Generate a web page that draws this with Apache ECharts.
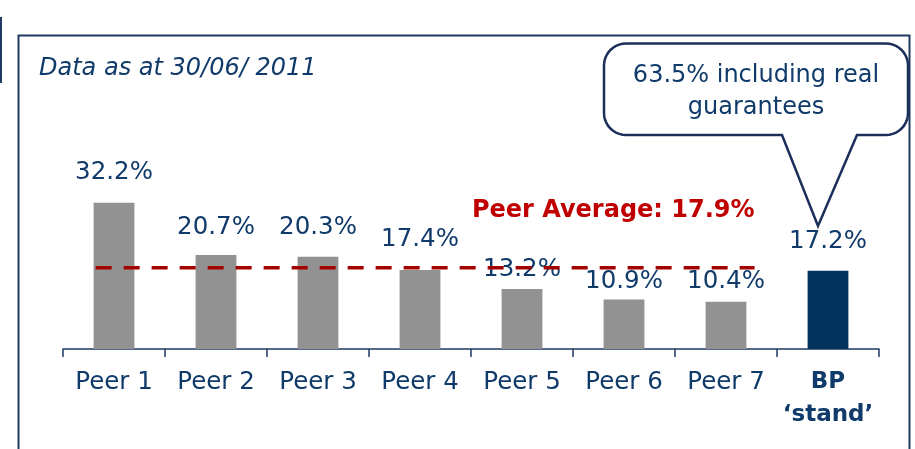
<!DOCTYPE html>
<html>
<head>
<meta charset="utf-8">
<script src="https://cdn.jsdelivr.net/npm/echarts@6/dist/echarts.min.js"></script>
<style>
  html, body { margin: 0; padding: 0; background: #ffffff; }
  #chart { width: 915px; height: 449px; }
</style>
</head>
<body>
<div id="chart"></div>
<script>
// Ratios by peer, with BP on its own at the end
const categories = ['Peer 1', 'Peer 2', 'Peer 3', 'Peer 4', 'Peer 5', 'Peer 6', 'Peer 7', 'BP\n‘stand’'];
const values = [32.2, 20.7, 20.3, 17.4, 13.2, 10.9, 10.4, 17.2];
const peerAverage = 17.9;
const dateNote = 'Data as at 30/06/ 2011';
const calloutLines = ['63.5% including real', 'guarantees'];

const NAVY = '#0f3a6a';
const FRAME = '#1f3864';
const GREY = '#929292';
const BP_BLUE = '#02335f';
const RED_LINE = '#a30000';
const RED_TEXT = '#c00000';
const FONT = 'DejaVu Sans';

// gap between each bar top and its value label
const labelGap = [18, 15, 17, 18, 7, 6, 8, 17];
// extent of the average line, in category-band units
const avgFrom = 0.32, avgTo = 6.78;

// Outline of a rounded speech bubble whose tail hangs from the bottom edge
function bubbleOutline(x0, y0, x1, y1, rx, ry, tailL, tailR, tip) {
  const pts = [];
  const arc = (cx, cy, a0, a1) => {
    const n = 10;
    for (let k = 0; k <= n; k++) {
      const a = a0 + (a1 - a0) * k / n;
      pts.push([cx + rx * Math.cos(a), cy + ry * Math.sin(a)]);
    }
  };
  arc(x1 - rx, y0 + ry, -Math.PI / 2, 0);          // top-right
  arc(x1 - rx, y1 - ry, 0, Math.PI / 2);           // bottom-right
  pts.push([tailR, y1], tip, [tailL, y1]);         // tail
  arc(x0 + rx, y1 - ry, Math.PI / 2, Math.PI);     // bottom-left
  arc(x0 + rx, y0 + ry, Math.PI, Math.PI * 1.5);   // top-left
  return pts;
}

const chart = echarts.init(document.getElementById('chart'), null, { renderer: 'canvas' });

const barData = values.map((v, i) => ({
  value: v,
  itemStyle: { color: i === values.length - 1 ? BP_BLUE : GREY },
  label: { distance: labelGap[i] }
}));

chart.setOption({
  animation: false,
  title: {
    text: dateNote,
    left: 34,
    top: 52,
    textStyle: { fontFamily: FONT, fontSize: 24, fontStyle: 'italic', fontWeight: 'normal', color: NAVY }
  },
  grid: { left: 63, right: 36, top: 167.2, bottom: 100 },
  xAxis: [
    {
      type: 'category',
      data: categories,
      boundaryGap: true,
      axisLine: { lineStyle: { color: FRAME, width: 1.5 } },
      axisTick: { show: true, length: 8, alignWithLabel: false, lineStyle: { color: FRAME, width: 1.5 } },
      axisLabel: {
        interval: 0,
        margin: 17,
        fontFamily: FONT,
        fontSize: 24.5,
        lineHeight: 33,
        color: NAVY,
        formatter: (v) => v.indexOf('BP') === 0 ? '{b|' + v.split('\n').join('}\n{b|') + '}' : v,
        rich: { b: { fontFamily: FONT, fontSize: 23, fontWeight: 'bold', color: NAVY, lineHeight: 33 } }
      }
    },
    { type: 'value', min: 0, max: categories.length, show: false }
  ],
  yAxis: { type: 'value', min: 0, max: 40, show: false },
  series: [
    {
      type: 'bar',
      data: barData,
      barWidth: '40%',
      label: {
        show: true,
        position: 'top',
        fontFamily: FONT,
        fontSize: 24.5,
        lineHeight: 24,
        color: NAVY,
        formatter: (p) => p.value.toFixed(1) + '%'
      }
    },
    {
      type: 'line',
      xAxisIndex: 1,
      data: [[avgFrom, peerAverage], [avgTo, peerAverage]],
      symbol: 'none',
      lineStyle: { color: RED_LINE, width: 3.5, type: [16, 12] },
      z: 3,
      markPoint: {
        symbol: 'circle',
        symbolSize: 0,
        data: [{ coord: [avgTo, peerAverage] }],
        label: {
          show: true,
          position: 'inside',
          align: 'right',
          offset: [0, -57],
          fontFamily: FONT,
          fontSize: 24,
          fontWeight: 'bold',
          color: RED_TEXT,
          formatter: () => 'Peer Average: ' + peerAverage.toFixed(1) + '%'
        }
      }
    }
  ],
  graphic: [
    {
      type: 'rect',
      shape: { x: 18.5, y: 35.5, width: 891, height: 460 },
      style: { fill: 'none', stroke: FRAME, lineWidth: 2 },
      silent: true
    },
    {
      type: 'line',
      shape: { x1: 1, y1: 17, x2: 1, y2: 83 },
      style: { stroke: FRAME, lineWidth: 2 },
      silent: true
    },
    {
      type: 'polygon',
      shape: { points: bubbleOutline(604, 43.5, 908, 135, 22, 22, 782, 857, [818, 226]) },
      style: { fill: '#ffffff', stroke: '#1b2f5a', lineWidth: 2.5 },
      silent: true,
      z: 10
    },
    {
      type: 'text',
      x: 756,
      y: 92,
      style: {
        text: calloutLines.join('\n'),
        fontFamily: FONT,
        fontSize: 24,
        lineHeight: 32,
        fill: NAVY,
        align: 'center',
        verticalAlign: 'middle'
      },
      silent: true,
      z: 11
    }
  ]
});
</script>
</body>
</html>
